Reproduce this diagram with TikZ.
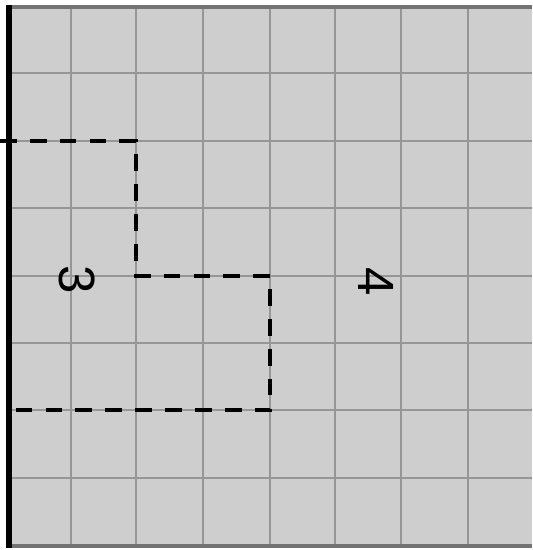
\documentclass[tikz,border=0pt]{standalone}
\usepackage{fontspec}
\usepackage{tikz}
\usetikzlibrary{arrows}
\newfontfamily\labelfont{Liberation Sans}
\definecolor{cellgray}{RGB}{206,206,206}
\definecolor{linegray}{RGB}{150,150,150}
\definecolor{edgegray}{RGB}{115,115,115}

\begin{document}
\begin{tikzpicture}[
            x = 0.02cm, % one unit is one pixel of the plan
            y = -0.02cm,
            semithick % line style
        ]

        \tikzstyle{grid line}=[
            draw = linegray,
            line width = 1.6pt
        ]
        \tikzstyle{cut line}=[
            draw = black,
            line width = 2.8pt,
            dash pattern = on 9.5pt off 7.5pt
        ]
        \tikzstyle{plan label}=[
            font = \labelfont\fontsize{29}{30}\selectfont,
            rotate = -90,
            inner sep = 0pt
        ]

        \useasboundingbox (0,0) rectangle (532,550);
        \fill[white] (0,0) rectangle (532,550);
        \fill[cellgray] (9,7) rectangle (532,546);

        % grid of the plan
        \foreach \x in {71,136,203,270,335,401,468}
            \draw[grid line] (\x,7) -- (\x,546);
        \foreach \y in {73,141,208,276,343,410,478}
            \draw[grid line] (9,\y) -- (532,\y);
        \draw[edgegray, line width = 2.6pt] (9,7) -- (532,7);
        \draw[edgegray, line width = 2.6pt] (9,546) -- (532,546);
        \draw[black, line width = 3pt] (9,5) -- (9,548);

        % cut between the two parts
        \draw[cut line] (0,141) -- (136,141) -- (136,276) -- (270,276)
            -- (270,410) -- (9,410);

        \node[plan label] (three) at (77,280) {3};
        \node[plan label] (four) at (376,282) {4};
    \end{tikzpicture}
\end{document}
